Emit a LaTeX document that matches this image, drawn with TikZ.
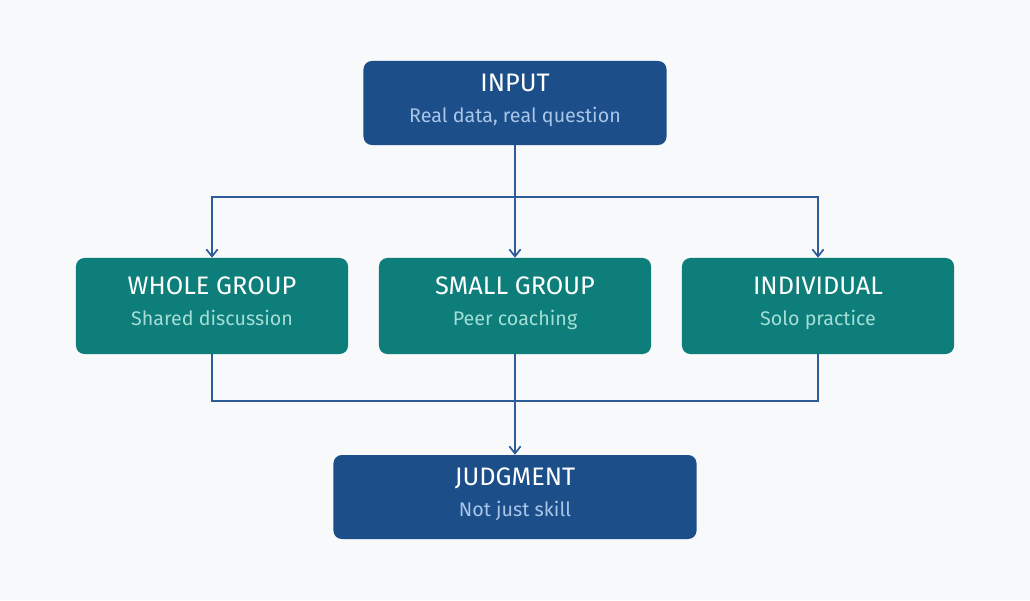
\documentclass[tikz,border=0pt]{standalone}
\usepackage{fontspec}
\setmainfont{Fira Sans}
\usetikzlibrary{arrows.meta}
\definecolor{bgpage}{HTML}{F7F9FB}
\definecolor{deepblue}{HTML}{1C4F8A}
\definecolor{deepteal}{HTML}{0E7E7B}
\definecolor{linkblue}{HTML}{2D5C98}
\definecolor{paleblue}{HTML}{A9C5E8}
\definecolor{paleteal}{HTML}{A3DDD6}
\tikzset{
  box/.style={rounded corners=6pt, minimum width=6.8cm, minimum height=2.4cm, inner sep=0pt},
  bluebox/.style={box, fill=deepblue},
  tealbox/.style={box, fill=deepteal},
  headtext/.style={anchor=base, text=white, font=\fontsize{18}{21}\selectfont},
  subblue/.style={anchor=base, text=paleblue, font=\fontsize{14}{17}\selectfont},
  subteal/.style={anchor=base, text=paleteal, font=\fontsize{14}{17}\selectfont},
  link/.style={draw=linkblue, line width=1.4pt},
  linkarrow/.style={link, -{Straight Barb[length=5pt,width=8pt,line width=1.2pt]}}
}
\begin{document}
\begin{tikzpicture}[x=0.025cm,y=-0.025cm]
  \fill[bgpage] (0,0) rectangle (1030,600);
  % boxes
  \node[bluebox, minimum width=7.575cm, minimum height=2.1cm] (input) at (515,103) {};
  \node[tealbox] (whole) at (212,306) {};
  \node[tealbox] (small) at (515,306) {};
  \node[tealbox] (individual) at (818,306) {};
  \node[bluebox, minimum width=9.075cm, minimum height=2.1cm] (judgment) at (515,497) {};
  % texts
  \node[headtext] (inputhead) at (515,91) {INPUT};
  \node[subblue] (inputsub) at (515,122) {Real data, real question};
  \node[headtext] (wholehead) at (212,294) {WHOLE GROUP};
  \node[subteal] (wholesub) at (212,325) {Shared discussion};
  \node[headtext] (smallhead) at (515,294) {SMALL GROUP};
  \node[subteal] (smallsub) at (515,325) {Peer coaching};
  \node[headtext] (individualhead) at (818,294) {INDIVIDUAL};
  \node[subteal] (individualsub) at (818,325) {Solo practice};
  \node[headtext] (judgmenthead) at (515,485) {JUDGMENT};
  \node[subblue] (judgmentsub) at (515,516) {Not just skill};
  % connectors
  \coordinate (split) at (515,197);
  \coordinate (merge) at (515,401);
  \draw[link] (input.south) -- (split);
  \draw[linkarrow] (split) -| (whole.north);
  \draw[linkarrow] (split) -| (individual.north);
  \draw[linkarrow] (split) -- (small.north);
  \draw[link] (whole.south) |- (merge);
  \draw[link] (individual.south) |- (merge);
  \draw[link] (small.south) -- (merge);
  \draw[linkarrow] (merge) -- (judgment.north);
\end{tikzpicture}
\end{document}
